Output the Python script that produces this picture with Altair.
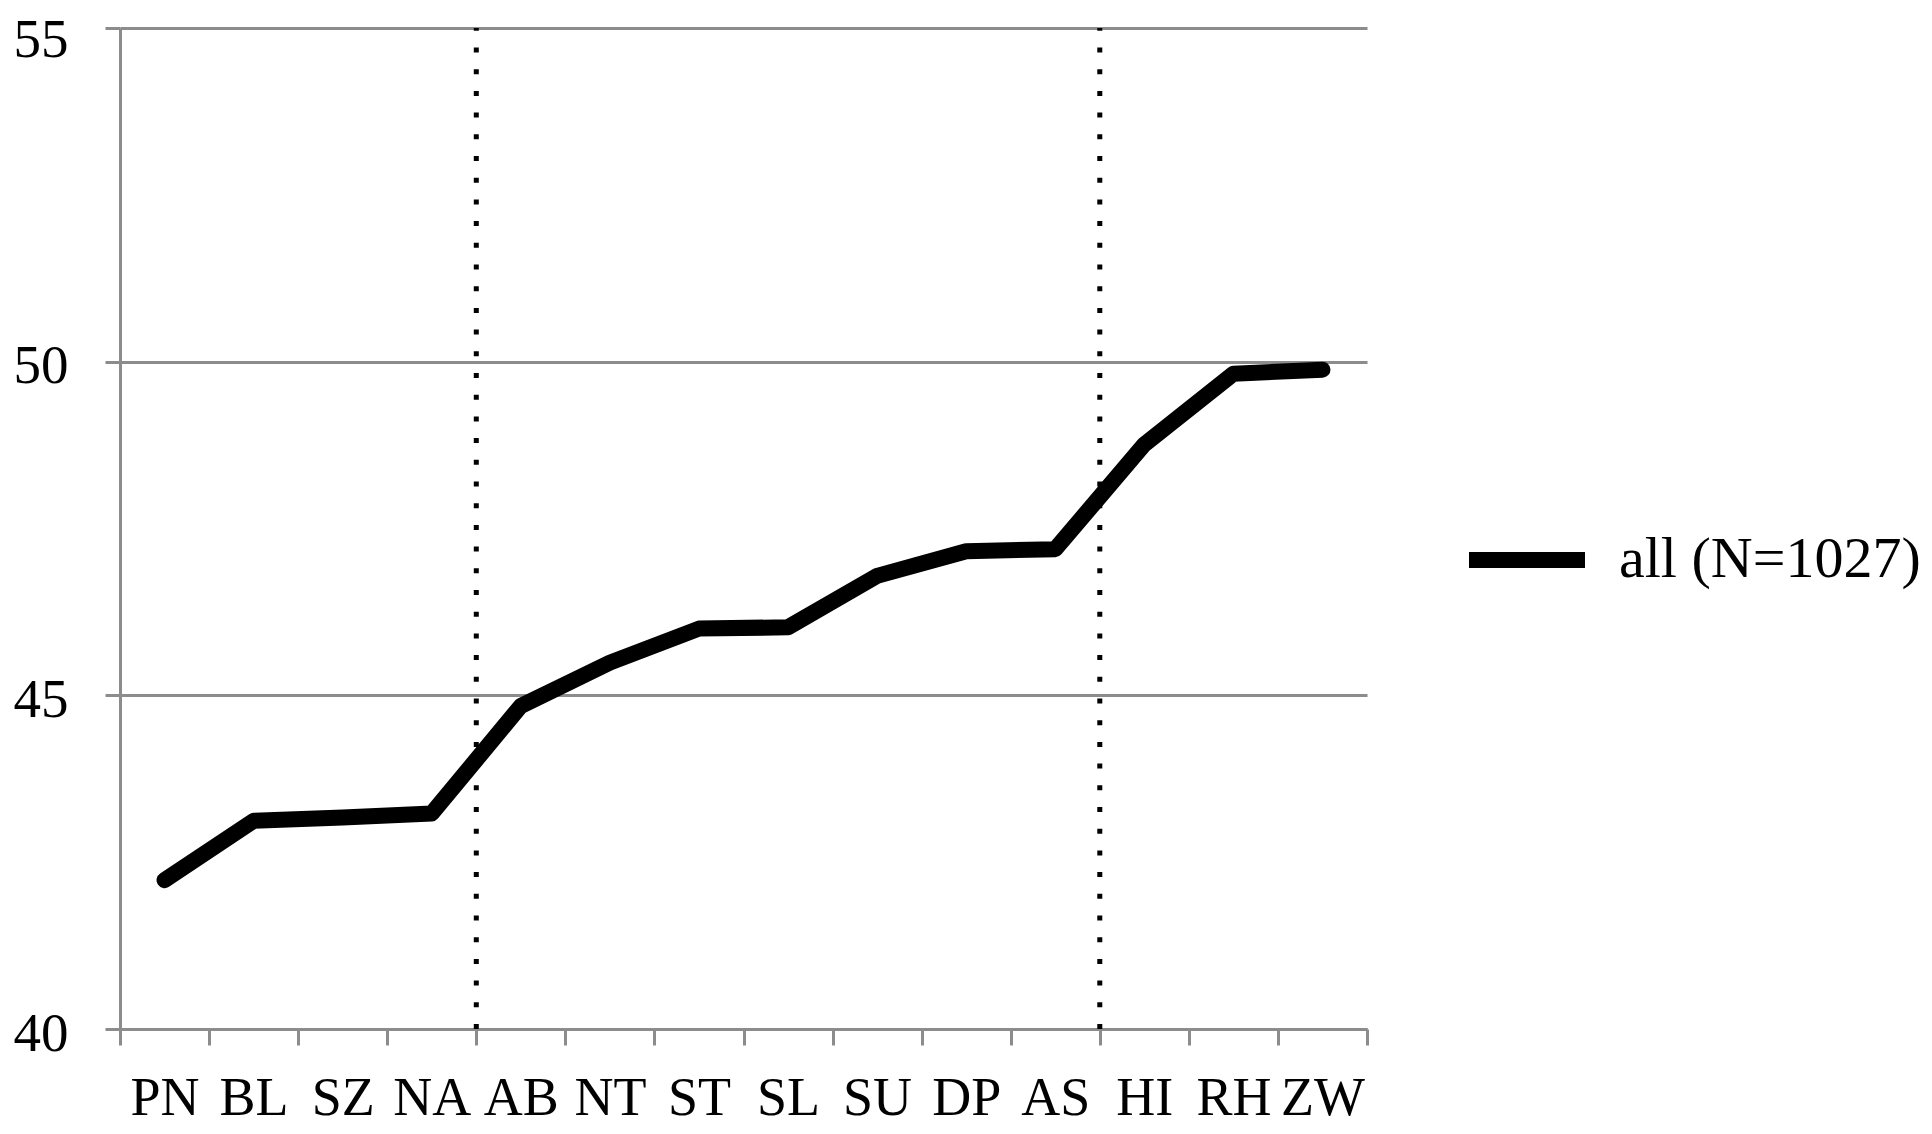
import altair as alt
import pandas as pd

categories = ["PN", "BL", "SZ", "NA", "AB", "NT", "ST", "SL", "SU", "DP", "AS", "HI", "RH", "ZW"]
values = [42.23, 43.12, 43.17, 43.23, 44.84, 45.49, 46.00, 46.02, 46.79, 47.16, 47.19, 48.76, 49.82, 49.88]
series_name = "all (N=1027)"
divider_categories = ["AB", "HI"]
y_ticks = [40, 45, 50, 55]
y_domain = [40, 55]

df = pd.DataFrame({"cat": categories, "value": values, "series": [series_name] * len(categories)})
div_df = pd.DataFrame({"cat": divider_categories,
                       "lo": [y_domain[0]] * len(divider_categories),
                       "hi": [y_domain[1]] * len(divider_categories)})

FONT = "Liberation Serif"
GRAY = "#8c8c8c"

x_scale = alt.Scale(domain=categories, paddingInner=0, paddingOuter=0)
y_scale = alt.Scale(domain=y_domain, nice=False, zero=False)

x_axis = alt.Axis(title=None, labelAngle=0, tickBand="extent", grid=False,
                  domainColor=GRAY, domainWidth=3, tickColor=GRAY, tickWidth=3, tickSize=16,
                  labelFont=FONT, labelFontSize=54, labelColor="black",
                  labelPadding=26, labelBaseline="top")
y_axis = alt.Axis(title=None, values=y_ticks, grid=True, gridColor=GRAY, gridWidth=3,
                  domainColor=GRAY, domainWidth=3, tickColor=GRAY, tickWidth=3, tickSize=15,
                  labelFont=FONT, labelFontSize=55, labelColor="black", labelPadding=37,
                  labelBaseline="middle", labelFlush=False,
                  labelOffset={"condition": {"test": "datum.value >= 55", "value": 11}, "value": 4})

dividers = alt.Chart(div_df).mark_rule(color="black", strokeWidth=5, strokeDash=[5, 16.7]).encode(
    x=alt.X("cat:N", bandPosition=0, scale=x_scale, sort=categories, axis=x_axis),
    y=alt.Y("lo:Q", scale=y_scale, axis=y_axis),
    y2="hi:Q",
)

line = alt.Chart(df).mark_line(strokeWidth=16, strokeCap="round", strokeJoin="round").encode(
    x=alt.X("cat:N", scale=x_scale, sort=categories, axis=x_axis),
    y=alt.Y("value:Q", scale=y_scale, axis=y_axis),
    color=alt.Color("series:N", scale=alt.Scale(domain=[series_name], range=["black"]),
                    legend=alt.Legend(title=None, orient="none", legendX=1341, legendY=466,
                                      symbolType="stroke", symbolStrokeWidth=16,
                                      symbolSize=13456, labelFont=FONT, labelFontSize=58,
                                      labelColor="black", labelOffset=26, labelLimit=0)),
)

chart = alt.layer(dividers, line).properties(
    width=1247, height=1001,
    autosize=alt.AutoSizeParams(type="none"),
    padding={"left": 112, "top": 20, "right": 557, "bottom": 97},
).configure_view(stroke=None)

chart.save("out.html", embed_options={"renderer": "svg", "actions": False})
